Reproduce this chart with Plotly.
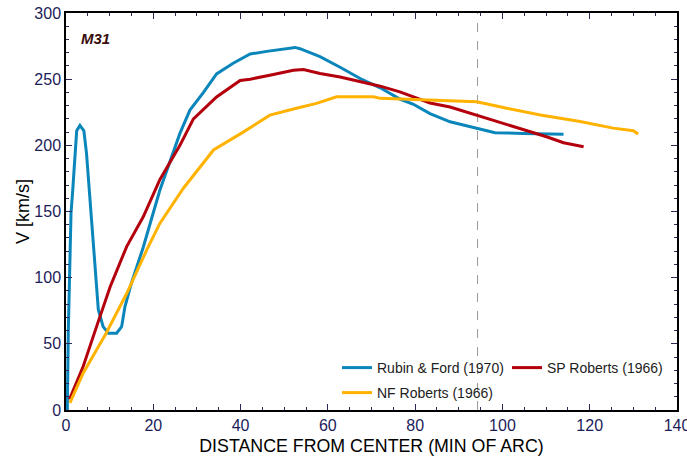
import plotly.graph_objects as go

# Rubin & Ford (1970)
rf_x = [0.2, 0.3, 0.53, 1.15, 1.5, 2.06, 2.45, 3.2, 4.1, 4.7, 5.5, 6.65, 7.4, 8.5, 9.7, 11.6, 12.75, 13.5, 15.0,
        17.7, 21.5, 26.1, 28.4, 31.5, 34.5, 38.3, 42.2, 46.0, 49.0, 52.5, 53.6, 58.2, 62.8, 67.4, 72.0, 76.5,
        79.6, 83.4, 88.0, 94.1, 98.3, 104.8, 114.0]
rf_v = [0, 0, 60, 149, 164, 196, 211, 215, 211, 194, 159, 113, 76, 63, 58, 58, 63, 78, 96,
        123, 166, 209, 226.6, 240, 254, 262, 269, 271, 272.4, 274, 273, 267, 259, 250.5, 243.5, 235,
        231, 224, 217.8, 212.8, 209.5, 209, 208.3]

# SP Roberts (1966)
sp_x = [0.8, 1.3, 3.95, 7.0, 10.1, 13.9, 17.7, 21.5, 26.1, 29.2, 34.5, 39.9, 42.2, 46.7, 52.1, 54.4, 58.2,
        62.8, 68.9, 72.0, 76.5, 79.6, 83.4, 88.0, 94.1, 99.5, 105.6, 110.1, 114.0, 118.6]
sp_v = [8, 12, 33, 63, 93, 123.5, 146, 174, 200, 220, 236.6, 249, 250, 253, 256.8, 257.3, 254.3,
        251.7, 246.8, 244.7, 240.4, 236.7, 232, 229, 222.8, 217.8, 211.5, 206.5, 202, 199]

# NF Roberts (1966)
nf_x = [0.9, 3.95, 9.2, 13.9, 18.5, 21.5, 26.9, 30.0, 33.8, 40.6, 46.7, 52.8, 57.4, 62.0, 70.4, 72.0,
        79.6, 88.7, 94.1, 101.0, 108.7, 117.8, 125.4, 130.0, 131.1]
nf_v = [5.4, 28, 58, 88, 121, 141, 167.6, 181, 196.5, 210, 222.8, 228, 231.7, 236.7, 236.7, 235.5,
        234.7, 234, 233, 228, 223, 218, 213, 211, 208.5]

series_names = ["Rubin & Ford (1970)", "SP Roberts (1966)", "NF Roberts (1966)"]
colors = ["#0a86bb", "#b3000c", "#ffb300"]
legend_ids = ["legend", "legend", "legend2"]
marker_x = 94.3

fig = go.Figure()
for xs, vs, name, c, lg in zip([rf_x, sp_x, nf_x], [rf_v, sp_v, nf_v], series_names, colors, legend_ids):
    fig.add_trace(go.Scatter(x=xs, y=vs, mode="lines", name=name, legend=lg,
                             line=dict(color=c, width=3)))

fig.add_shape(type="line", xref="x", yref="paper", x0=marker_x, x1=marker_x, y0=0, y1=1,
              line=dict(color="#999999", width=1, dash="dash"), layer="below")

fig.add_annotation(x=0.021, y=0.937, xref="paper", yref="paper", text="<b><i>M31</i></b>",
                   showarrow=False, xanchor="left", yanchor="middle",
                   font=dict(family="Liberation Sans, Arial", size=15, color="#3a0d0d"))

tickfont = dict(family="Liberation Sans, Arial", size=16, color="#1c1c5a")
axis_common = dict(showline=True, linecolor="black", linewidth=1.5, mirror="ticks", ticks="inside",
                   ticklen=6, tickcolor="#2a2a5a", tickwidth=1, showgrid=False, zeroline=False,
                   tickfont=tickfont, automargin=False, ticklabeloverflow="allow")

fig.update_xaxes(range=[0, 140], dtick=20, tick0=0,
                 minor=dict(dtick=5, ticks="inside", ticklen=3, tickcolor="#2a2a5a"),
                 title=dict(text="DISTANCE FROM CENTER (MIN OF ARC)",
                            font=dict(family="Liberation Sans, Arial", size=17.8, color="black"),
                            standoff=8),
                 **axis_common)
fig.update_yaxes(range=[0, 300], dtick=50, tick0=0,
                 minor=dict(dtick=10, ticks="inside", ticklen=3, tickcolor="#2a2a5a"),
                 title=dict(text="V [km/s]",
                            font=dict(family="Liberation Sans, Arial", size=18, color="black"),
                            standoff=0),
                 **axis_common)

legend_common = dict(orientation="h", xanchor="left", yanchor="middle",
                     bgcolor="rgba(0,0,0,0)", font=dict(family="Liberation Sans, Arial", size=14, color="#222222"),
                     entrywidth=125, entrywidthmode="pixels")
fig.update_layout(
    width=687, height=456,
    margin=dict(l=66, r=10, t=13, b=46),
    plot_bgcolor="white", paper_bgcolor="white",
    font=dict(family="Liberation Sans, Arial"),
    legend=dict(x=(337 - 66) / 611, y=(410 - 368) / 397, **legend_common),
    legend2=dict(x=(337 - 66) / 611, y=(410 - 393) / 397, **legend_common),
)

fig.write_html("out.html")
